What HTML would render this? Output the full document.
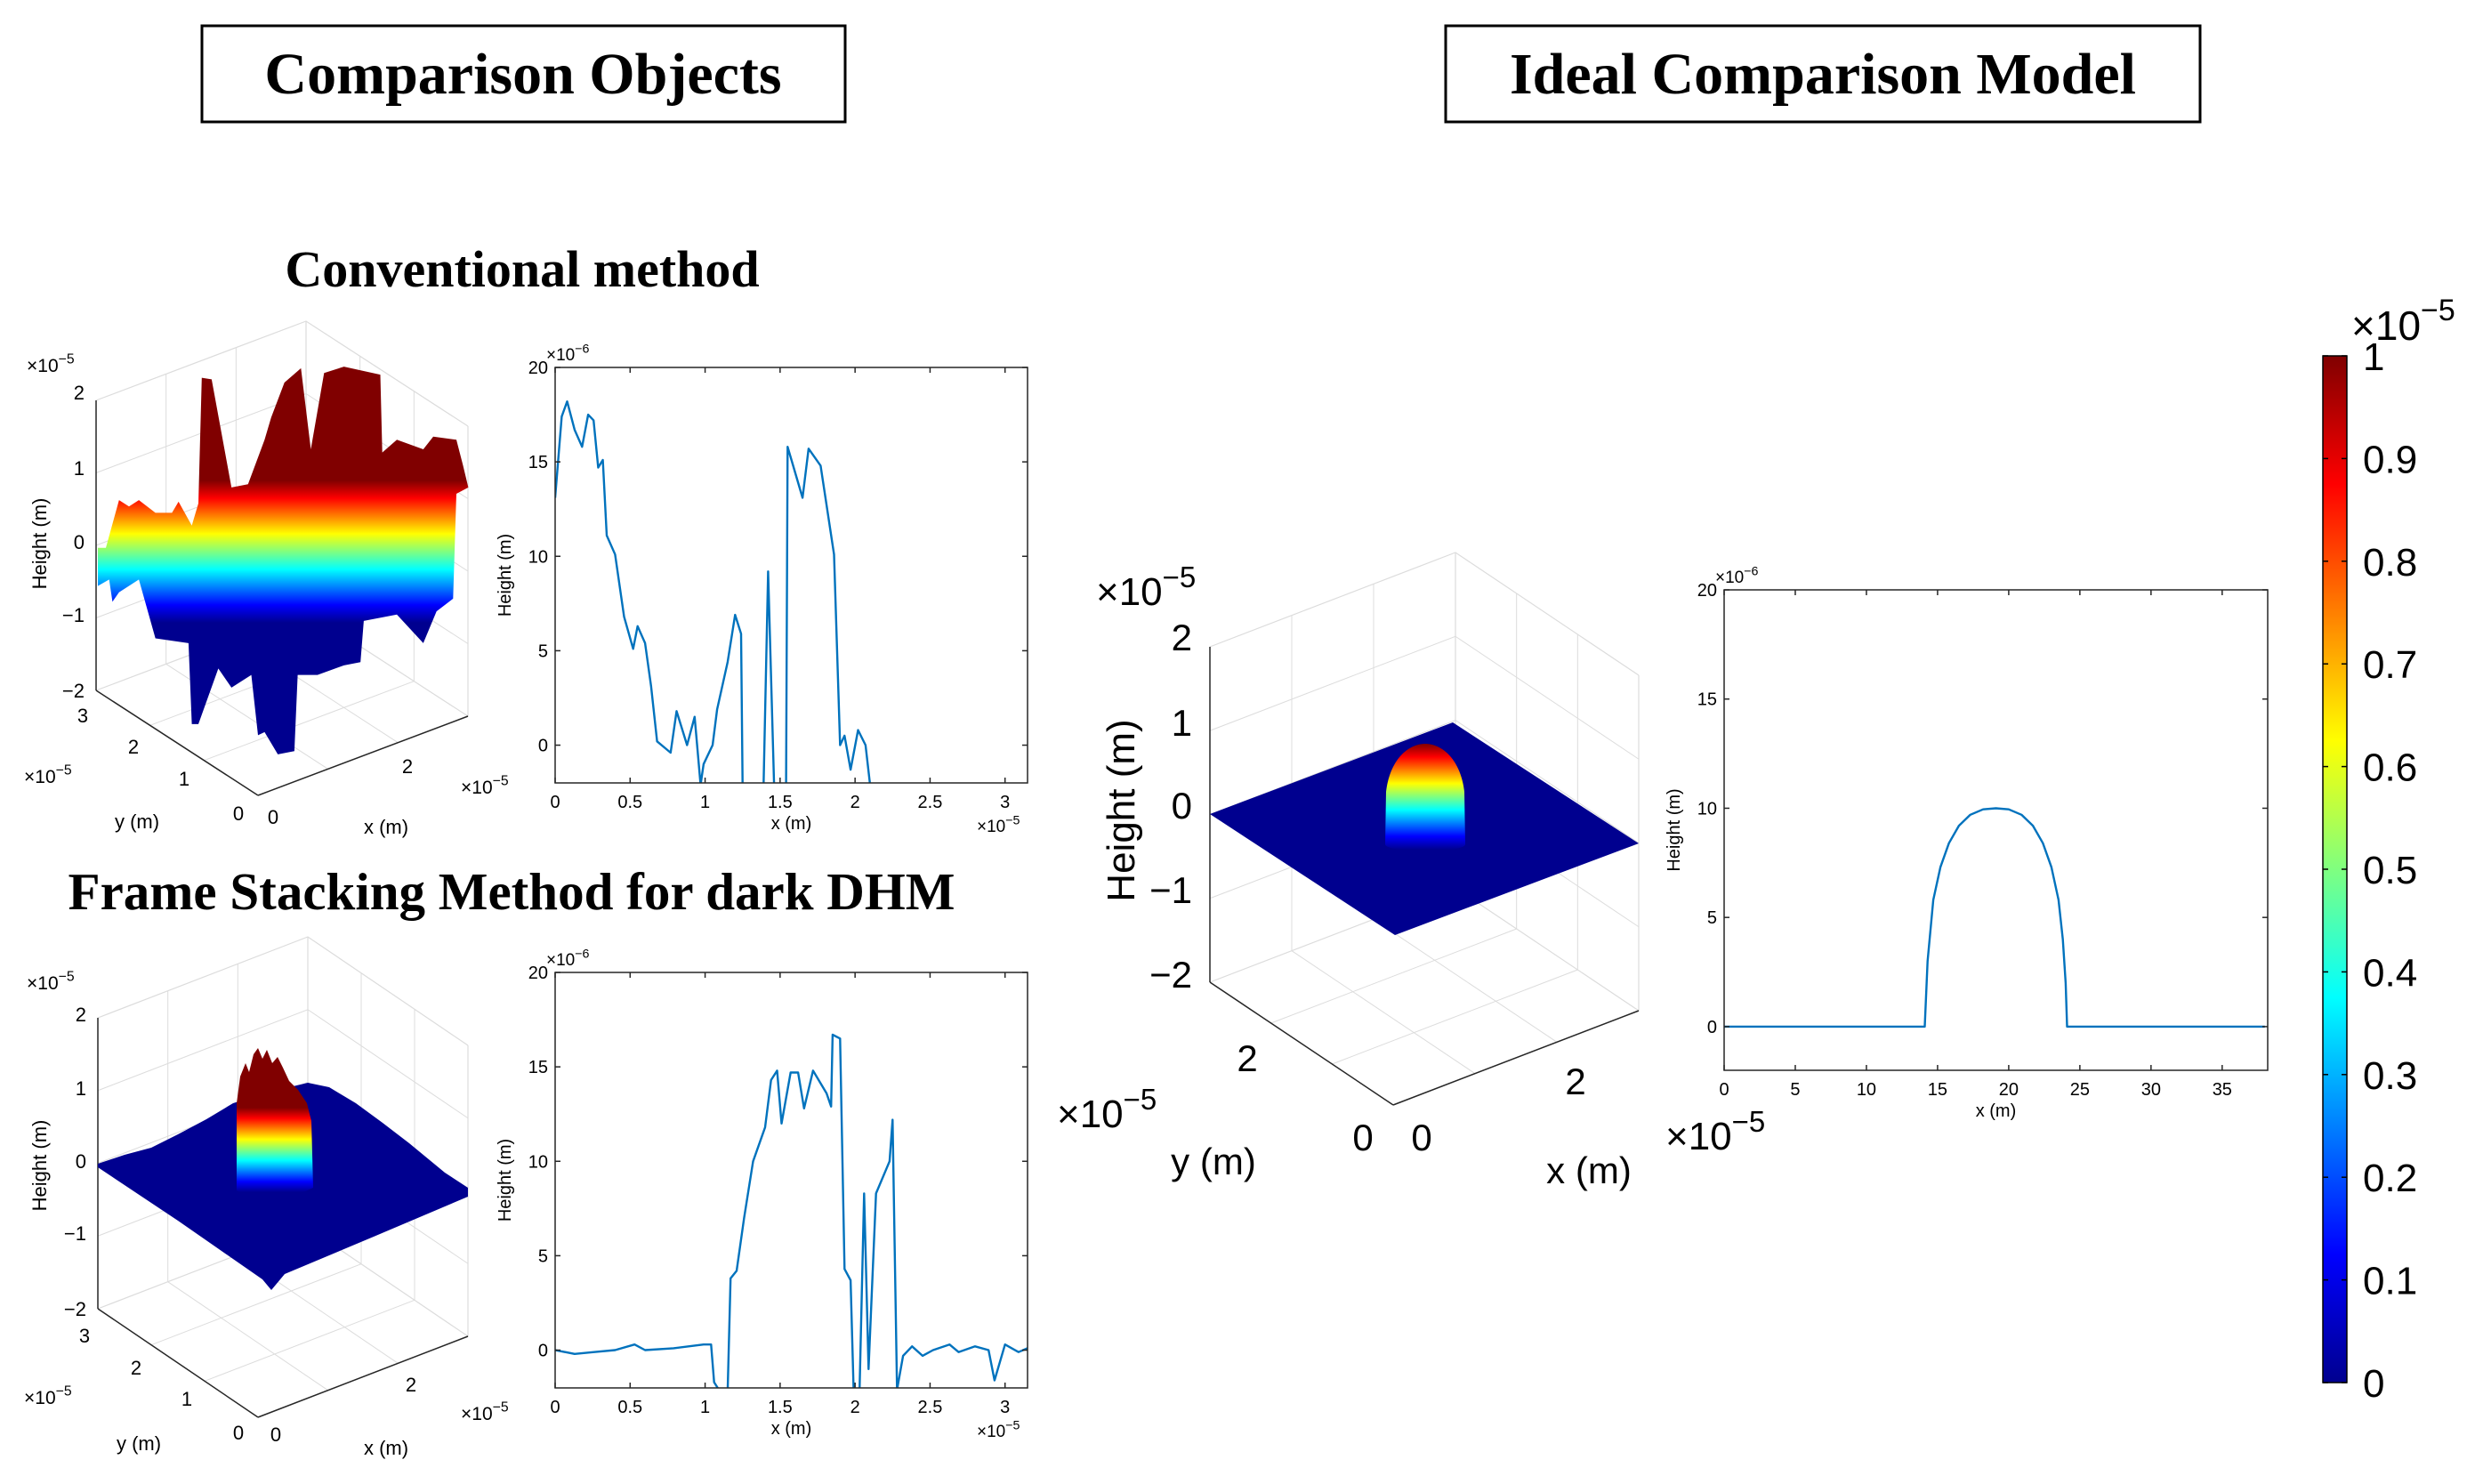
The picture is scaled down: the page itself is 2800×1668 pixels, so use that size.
<!DOCTYPE html>
<html><head><meta charset="utf-8"><title>Comparison Objects</title>
<style>
html,body{margin:0;padding:0;background:#fff;}
svg{display:block;font-family:"Liberation Sans",sans-serif;}
.ttl{font-family:"Liberation Serif",serif;font-weight:bold;}
</style></head>
<body>
<svg id="fig" width="2800" height="1668" viewBox="0 0 2800 1668" xmlns="http://www.w3.org/2000/svg">
<defs>
<linearGradient id="jetV" x1="0" y1="1" x2="0" y2="0">
<stop offset="0" stop-color="#00008f"/><stop offset="0.125" stop-color="#0000ff"/><stop offset="0.375" stop-color="#00ffff"/><stop offset="0.625" stop-color="#ffff00"/><stop offset="0.875" stop-color="#ff0000"/><stop offset="1" stop-color="#800000"/>
</linearGradient>
<linearGradient id="jet1" gradientUnits="userSpaceOnUse" x1="0" y1="700" x2="0" y2="540">
<stop offset="0" stop-color="#00008f"/><stop offset="0.125" stop-color="#0000ff"/><stop offset="0.375" stop-color="#00ffff"/><stop offset="0.625" stop-color="#ffff00"/><stop offset="0.875" stop-color="#ff0000"/><stop offset="1" stop-color="#800000"/>
</linearGradient>
<linearGradient id="jet2" gradientUnits="userSpaceOnUse" x1="0" y1="1340" x2="0" y2="1245">
<stop offset="0" stop-color="#00008f"/><stop offset="0.125" stop-color="#0000ff"/><stop offset="0.375" stop-color="#00ffff"/><stop offset="0.625" stop-color="#ffff00"/><stop offset="0.875" stop-color="#ff0000"/><stop offset="1" stop-color="#800000"/>
</linearGradient>
<linearGradient id="jet3" gradientUnits="userSpaceOnUse" x1="0" y1="955" x2="0" y2="836">
<stop offset="0" stop-color="#00008f"/><stop offset="0.125" stop-color="#0000ff"/><stop offset="0.375" stop-color="#00ffff"/><stop offset="0.625" stop-color="#ffff00"/><stop offset="0.875" stop-color="#ff0000"/><stop offset="1" stop-color="#800000"/>
</linearGradient>
</defs>

<rect x="227" y="29" width="723" height="108" fill="none" stroke="#000" stroke-width="3"/>
<text class="ttl" x="588" y="105" font-size="66" text-anchor="middle">Comparison Objects</text>
<rect x="1625" y="29" width="848" height="108" fill="none" stroke="#000" stroke-width="3"/>
<text class="ttl" x="2049" y="105" font-size="66" text-anchor="middle">Ideal Comparison Model</text>
<text class="ttl" x="587" y="322" font-size="58" text-anchor="middle">Conventional method</text>
<text class="ttl" x="575" y="1022" font-size="59" text-anchor="middle">Frame Stacking Method for dark DHM</text>

<g id="g3d"></g>
<g id="glines"></g>

<g>
<rect x="2611" y="400" width="27" height="1154" fill="url(#jetV)" stroke="#000" stroke-width="1.5"/>
<text x="2643" y="382" font-size="46">×10<tspan dy="-22" font-size="34">−5</tspan></text>
<g id="cbticks"></g>
</g>
</svg>

<script>
var convX = [0,0.044,0.08,0.13,0.18,0.22,0.256,0.287,0.318,0.344,0.4,0.46,0.52,0.55,0.6,0.64,0.68,0.77,0.81,0.88,0.93,0.97,0.99,1.05,1.08,1.15,1.2,1.24,1.25,1.3,1.39,1.42,1.46,1.54,1.55,1.65,1.69,1.77,1.86,1.9,1.93,1.97,2.02,2.07,2.1,2.2,3.15];
var convY = [13.1,17.4,18.2,16.7,15.8,17.5,17.2,14.7,15.1,11.1,10.1,6.8,5.1,6.3,5.4,3.1,0.2,-0.4,1.8,0,1.5,-2.1,-1,0,1.9,4.4,6.9,5.9,-2.1,-4,-2.1,9.2,-2.1,-2.1,15.8,13.1,15.7,14.8,10.1,0,0.5,-1.3,0.8,0,-2.1,-4,-4];
var fsX = [0,0.13,0.26,0.4,0.53,0.6,0.79,0.99,1.04,1.06,1.1,1.15,1.17,1.21,1.26,1.32,1.4,1.44,1.48,1.51,1.57,1.62,1.66,1.72,1.81,1.84,1.85,1.9,1.93,1.97,1.99,2.03,2.06,2.09,2.14,2.23,2.25,2.28,2.32,2.38,2.45,2.52,2.63,2.69,2.8,2.89,2.93,3.0,3.09,3.15];
var fsY = [0,-0.2,-0.1,0,0.3,0,0.1,0.3,0.3,-1.7,-2.2,-2.2,3.8,4.2,7,10,11.8,14.3,14.8,12,14.7,14.7,12.8,14.8,13.6,12.9,16.7,16.5,4.3,3.7,-2.1,-2.1,8.3,-1,8.3,10,12.2,-2.1,-0.3,0.2,-0.3,0,0.3,-0.1,0.2,0,-1.6,0.3,-0.1,0.1];
var idealX = [0,14,14.1,14.3,14.7,15.2,15.8,16.5,17.3,18.2,19.1,20,20.9,21.7,22.4,23,23.5,23.8,24,24.1,38];
var idealY = [0,0,0,3,5.8,7.3,8.4,9.2,9.7,9.95,10,9.95,9.7,9.2,8.4,7.3,5.8,4,2,0,0];
var yTicks = [0,5,10,15,20];
var xTicksA = [0,0.5,1,1.5,2,2.5,3];
var xTickLabelsA = ["0","0.5","1","1.5","2","2.5","3"];
var xTicksIdeal = [0,5,10,15,20,25,30,35];
var cbTicks = [0,0.1,0.2,0.3,0.4,0.5,0.6,0.7,0.8,0.9,1];
var cbLabels = ["0","0.1","0.2","0.3","0.4","0.5","0.6","0.7","0.8","0.9","1"];

var NS="http://www.w3.org/2000/svg";
function mk(tag, attrs, parent){var e=document.createElementNS(NS,tag);for(var k in attrs)e.setAttribute(k,attrs[k]);if(parent)parent.appendChild(e);return e;}
function txt(parent,x,y,s,size,anchor,name){var t=mk('text',{x:x,y:y,'font-size':size,'text-anchor':anchor||'start'},parent);t.textContent=s;


return t;}
function expo(parent,x,y,base,sup,size,name){var t=mk('text',{x:x,y:y,'font-size':size},parent);t.textContent=base;var ts=mk('tspan',{dy:-size*0.45,'font-size':size*0.75},t);ts.textContent=sup;


return t;}

function lineChart(id, L, R, T, B, xmax, xs, ys, xt, xtl, xExpX, xExpY){
  var g=mk('g',{},document.getElementById('glines'));
  
  
  var ymin=-2, ymax=20;
  function sx(v){return L+(v/xmax)*(R-L);}
  function sy(v){return B-(v-ymin)/(ymax-ymin)*(B-T);}
  var clip=mk('clipPath',{id:id+'-clip'},g);mk('rect',{x:L,y:T,width:R-L,height:B-T},clip);
  var d='';for(var i=0;i<xs.length;i++){d+=(i?'L':'M')+sx(xs[i]).toFixed(1)+','+sy(ys[i]).toFixed(1);}
  var p=mk('path',{d:d,fill:'none',stroke:'#0072bd','stroke-width':2.4,'clip-path':'url(#'+id+'-clip)','stroke-linejoin':'round'},g);
  
  
  var box=mk('rect',{x:L,y:T,width:R-L,height:B-T,fill:'none',stroke:'#262626','stroke-width':1.5},g);
  
  
  for(var j=0;j<yTicks.length;j++){var y=sy(yTicks[j]);
    mk('line',{x1:L,y1:y,x2:L+6,y2:y,stroke:'#262626','stroke-width':1.5},g);
    mk('line',{x1:R,y1:y,x2:R-6,y2:y,stroke:'#262626','stroke-width':1.5},g);
    txt(g,L-8,y+7,String(yTicks[j]),20,'end','y-tick-label');}
  for(var k=0;k<xt.length;k++){var x=sx(xt[k]);
    mk('line',{x1:x,y1:B,x2:x,y2:B-6,stroke:'#262626','stroke-width':1.5},g);
    mk('line',{x1:x,y1:T,x2:x,y2:T+6,stroke:'#262626','stroke-width':1.5},g);
    txt(g,x,B+28,xtl[k],20,'middle','x-tick-label');}
  expo(g,L-10,T-8,'×10','−6',19,'y-exponent');
  var yl=txt(g,0,0,'Height (m)',20,'middle','y-axis-title');yl.setAttribute('transform','translate('+(L-50)+','+((T+B)/2)+') rotate(-90)');
  txt(g,(L+R)/2,B+52,'x (m)',20,'middle','x-axis-title');
  if(xExpX!==null) expo(g,xExpX,xExpY,'×10','−5',19,'x-exponent');
}
lineChart('conventional-profile',624,1155,413,880,3.15,convX,convY,xTicksA,xTickLabelsA,1098,935);
lineChart('frame-stacking-profile',624,1155,1093,1560,3.15,fsX,fsY,xTicksA,xTickLabelsA,1098,1615);
lineChart('ideal-profile',1938,2549,663,1203,38.2,idealX,idealY,xTicksIdeal,xTicksIdeal.map(String),null,null);

(function(){var g=document.getElementById('cbticks');
for(var i=0;i<cbTicks.length;i++){var y=1554-cbTicks[i]*1154;
 mk('line',{x1:2611,y1:y,x2:2617,y2:y,stroke:'#000','stroke-width':1.5},g);
 mk('line',{x1:2638,y1:y,x2:2632,y2:y,stroke:'#000','stroke-width':1.5},g);
 txt(g,2656,y+16,cbLabels[i],44,'start','colorbar-tick-label');}})();

function box3d(name, Lx,Ly, Fx,Fy, Rx,Ry, H){
  var g=mk('g',{},document.getElementById('g3d'));
  
  
  var Bx=Lx+Rx-Fx, By=Ly+Ry-Fy;
  var gc='#dcdcdc';
  mk('polyline',{points:[Lx,Ly-H,Bx,By-H,Rx,Ry-H].join(' '),fill:'none',stroke:gc,'stroke-width':1.2},g);
  mk('line',{x1:Bx,y1:By,x2:Bx,y2:By-H,stroke:gc,'stroke-width':1.2},g);
  mk('line',{x1:Rx,y1:Ry,x2:Rx,y2:Ry-H,stroke:gc,'stroke-width':1.2},g);
  mk('polyline',{points:[Lx,Ly,Bx,By,Rx,Ry].join(' '),fill:'none',stroke:gc,'stroke-width':1.2},g);
  for(var i=1;i<4;i++){var dz=H*i/4;
    mk('polyline',{points:[Lx,Ly-dz,Bx,By-dz,Rx,Ry-dz].join(' '),fill:'none',stroke:gc,'stroke-width':1},g);}
  for(var f=1;f<3;f++){var t=f/3;
    var ax=Lx+(Bx-Lx)*t, ay=Ly+(By-Ly)*t; mk('line',{x1:ax,y1:ay,x2:ax,y2:ay-H,stroke:gc,'stroke-width':1},g);
    var bx=Bx+(Rx-Bx)*t, by=By+(Ry-By)*t; mk('line',{x1:bx,y1:by,x2:bx,y2:by-H,stroke:gc,'stroke-width':1},g);
    mk('line',{x1:Lx+(Fx-Lx)*t,y1:Ly+(Fy-Ly)*t,x2:Bx+(Rx-Bx)*t,y2:By+(Ry-By)*t,stroke:gc,'stroke-width':1},g);
    mk('line',{x1:Fx+(Rx-Fx)*t,y1:Fy+(Ry-Fy)*t,x2:Lx+(Bx-Lx)*t,y2:Ly+(By-Ly)*t,stroke:gc,'stroke-width':1},g);}
  mk('line',{x1:Lx,y1:Ly,x2:Lx,y2:Ly-H,stroke:'#262626','stroke-width':1.5},g);
  mk('line',{x1:Lx,y1:Ly,x2:Fx,y2:Fy,stroke:'#262626','stroke-width':1.5},g);
  mk('line',{x1:Fx,y1:Fy,x2:Rx,y2:Ry,stroke:'#262626','stroke-width':1.5},g);
  return g;
}
function poly(g,pts,fill,name){var p=mk('polygon',{points:pts.map(function(q){return q[0].toFixed(1)+','+q[1].toFixed(1);}).join(' '),fill:fill},g);
  
  
  return p;}

(function(){
 var g=box3d('conventional-surface-plot',108,776,290,894,526,805,326);
 var raw=[[148,660],[148,780],[165,760],[170,830],[180,800],[210,760],[235,945],[285,960],[290,1215],[300,1215],[330,1040],[350,1100],[380,1060],[390,1250],[400,1240],[420,1310],[445,1300],[450,1060],[480,1060],[520,1030],[545,1020],[550,890],[600,870],[640,960],[660,860],[685,820],[690,490],[708,470],[700,400],[690,320],[655,310],[640,350],[600,320],[578,360],[575,115],[520,90],[490,110],[470,350],[455,95],[430,140],[410,250],[400,320],[375,460],[350,470],[320,130],[305,125],[300,520],[290,590],[270,515],[260,550],[235,550],[210,510],[195,530],[180,510],[160,660]];
 var pts=raw.map(function(q){return [q[0]/1.345, 380+q[1]/2.8];});
 poly(g,pts,'url(#jet1)','conventional-surface');
 txt(g,95,449,'2',22,'end','z-tick');txt(g,95,534,'1',22,'end','z-tick');txt(g,95,617,'0',22,'end','z-tick');txt(g,95,699,'−1',22,'end','z-tick');txt(g,95,784,'−2',22,'end','z-tick');
 expo(g,30,418,'×10','−5',21,'z-exponent');
 var yl=txt(g,0,0,'Height (m)',22,'middle','z-axis-title');yl.setAttribute('transform','translate(52,611) rotate(-90)');
 txt(g,93,812,'3',22,'middle','y-tick');txt(g,150,847,'2',22,'middle','y-tick');txt(g,207,883,'1',22,'middle','y-tick');txt(g,268,922,'0',22,'middle','y-tick');
 txt(g,307,926,'0',22,'middle','x-tick');txt(g,458,869,'2',22,'middle','x-tick');
 expo(g,27,880,'×10','−5',21,'y-exponent');expo(g,518,892,'×10','−5',21,'x-exponent');
 txt(g,154,931,'y (m)',22,'middle','y-axis-title');txt(g,434,937,'x (m)',22,'middle','x-axis-title');
})();

(function(){
 var g=box3d('frame-stacking-surface-plot',110,1471,290,1593,526,1502,327);
 var plane=[[110,1308],[140,1298],[170,1290],[200,1275],[232,1258],[262,1240],[300,1228],[346,1217],[370,1222],[400,1240],[430,1262],[460,1285],[500,1318],[526,1335],[526,1345],[420,1390],[320,1432],[305,1450],[295,1438],[200,1372],[110,1312]];
 poly(g,plane,'#00008f','frame-stacking-plane');
 var peak=[[266,1338],[266,1240],[270,1210],[276,1195],[280,1205],[285,1185],[290,1178],[295,1190],[300,1180],[306,1195],[312,1188],[318,1200],[325,1215],[335,1225],[345,1240],[350,1260],[352,1335],[330,1345],[300,1350],[280,1346]];
 poly(g,peak,'url(#jet2)','frame-stacking-peak');
 txt(g,97,1148,'2',22,'end','z-tick');txt(g,97,1231,'1',22,'end','z-tick');txt(g,97,1313,'0',22,'end','z-tick');txt(g,97,1394,'−1',22,'end','z-tick');txt(g,97,1479,'−2',22,'end','z-tick');
 expo(g,30,1112,'×10','−5',21,'z-exponent');
 var yl=txt(g,0,0,'Height (m)',22,'middle','z-axis-title');yl.setAttribute('transform','translate(52,1310) rotate(-90)');
 txt(g,95,1509,'3',22,'middle','y-tick');txt(g,153,1545,'2',22,'middle','y-tick');txt(g,210,1580,'1',22,'middle','y-tick');txt(g,268,1618,'0',22,'middle','y-tick');
 txt(g,310,1620,'0',22,'middle','x-tick');txt(g,462,1564,'2',22,'middle','x-tick');
 expo(g,27,1578,'×10','−5',21,'y-exponent');expo(g,518,1596,'×10','−5',21,'x-exponent');
 txt(g,156,1630,'y (m)',22,'middle','y-axis-title');txt(g,434,1635,'x (m)',22,'middle','x-axis-title');
})();

(function(){
 var g=box3d('ideal-surface-plot',1360,1104,1566,1242,1842,1136,377);
 poly(g,[[1360,915],[1568,1051],[1842,948],[1633,812]],'#00008f','ideal-plane');
 var d='M1557,949 L1558,890 C1562,855 1582,836 1602,836 C1622,836 1642,855 1646,890 L1647,949 A45,8 0 0 1 1557,949 Z';
 var p=mk('path',{d:d,fill:'url(#jet3)'},g);
 
 
 txt(g,1340,731,'2',42,'end','z-tick');txt(g,1340,827,'1',42,'end','z-tick');txt(g,1340,920,'0',42,'end','z-tick');txt(g,1340,1015,'−1',42,'end','z-tick');txt(g,1340,1110,'−2',42,'end','z-tick');
 expo(g,1232,680,'×10','−5',44,'z-exponent');
 var yl=txt(g,0,0,'Height (m)',44,'middle','z-axis-title');yl.setAttribute('transform','translate(1275,911) rotate(-90)');
 txt(g,1402,1204,'2',42,'middle','y-tick');txt(g,1532,1293,'0',42,'middle','y-tick');
 txt(g,1598,1293,'0',42,'middle','x-tick');txt(g,1771,1230,'2',42,'middle','x-tick');
 expo(g,1188,1267,'×10','−5',44,'y-exponent');expo(g,1872,1292,'×10','−5',44,'x-exponent');
 txt(g,1364,1320,'y (m)',42,'middle','y-axis-title');txt(g,1786,1330,'x (m)',42,'middle','x-axis-title');
})();
</script>
</body></html>
